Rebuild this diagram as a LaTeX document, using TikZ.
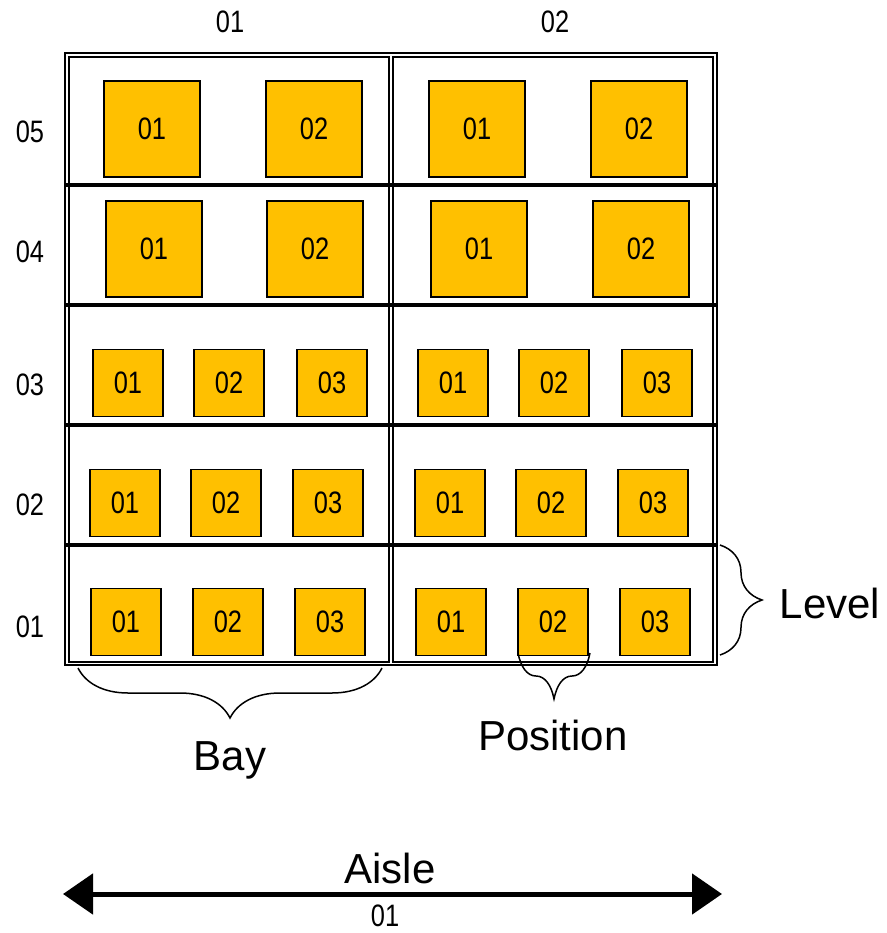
\documentclass[tikz,border=0pt]{standalone}
\usepackage{fontspec}
\setmainfont{Liberation Sans}
\newfontfamily\narrowfont[FakeStretch=0.82]{Liberation Sans}
\usetikzlibrary{arrows.meta,decorations.pathreplacing}
\definecolor{slotyellow}{HTML}{FFC000}

\begin{document}
\begin{tikzpicture}[x=1pt,y=-1pt,
  slot/.style={draw, fill=slotyellow, line width=1.5pt, inner sep=0pt, font=\narrowfont\fontsize{31}{31}\selectfont},
  big slot/.style={slot, minimum width=96pt, minimum height=96pt},
  small slot/.style={slot, minimum width=70pt, minimum height=67pt},
  tag/.style={font=\narrowfont\fontsize{31}{31}\selectfont},
  caption/.style={font=\fontsize{42}{42}\selectfont},
  cell/.style={draw, line width=1.5pt},
  shelf/.style={line width=4pt},
  bracket/.style={line width=1.5pt, decorate, decoration={brace, amplitude=#1}}]

  \useasboundingbox (0,0) rectangle (886,933);

  % rack frame
  \draw[cell] (65,53) rectangle (717,665);
  \foreach \top/\bot in {57/185,185/305,305/425,425/545,545/662}{
    \draw[cell] (69,\top) rectangle (389,\bot);
    \draw[cell] (393,\top) rectangle (713,\bot);
  }
  \foreach \y in {185,305,425,545}
    \draw[shelf] (65,\y) -- (717,\y);

  % bays and levels
  \node[tag] (bay1) at (230,22) {01};
  \node[tag] (bay2) at (555,22) {02};
  \node[tag] (lev5) at (30,132) {05};
  \node[tag] (lev4) at (30,252) {04};
  \node[tag] (lev3) at (30,385) {03};
  \node[tag] (lev2) at (30,505) {02};
  \node[tag] (lev1) at (30,627) {01};

  % positions
  \foreach \b/\xa/\xb in {1/152/314, 2/477/639}{
    \node[big slot] (l5b\b p1) at (\xa,129) {01};
    \node[big slot] (l5b\b p2) at (\xb,129) {02};
  }
  \foreach \b/\xa/\xb in {1/154/315, 2/479/641}{
    \node[big slot] (l4b\b p1) at (\xa,249) {01};
    \node[big slot] (l4b\b p2) at (\xb,249) {02};
  }
  \foreach \l/\y/\xa/\xb/\xc in {3/383/128/229/332, 2/503/125/226/328, 1/622/126/228/330}{
    \node[small slot] (l\l b1p1) at (\xa,\y) {01};
    \node[small slot] (l\l b1p2) at (\xb,\y) {02};
    \node[small slot] (l\l b1p3) at (\xc,\y) {03};
    \node[small slot] (l\l b2p1) at (\xa+325,\y) {01};
    \node[small slot] (l\l b2p2) at (\xb+325,\y) {02};
    \node[small slot] (l\l b2p3) at (\xc+325,\y) {03};
  }

  % braces
  \coordinate (levtop) at (720,545);
  \coordinate (levbot) at (720,655);
  \coordinate (bayl) at (78,668);
  \coordinate (bayr) at (382,668);
  \coordinate (posl) at (518,653);
  \coordinate (posr) at (590,653);
  \draw[bracket=42pt] (levtop) -- (levbot);
  \draw[bracket=50pt] (bayr) -- (bayl);
  \draw[bracket=46pt] (posr) -- (posl);
  \node[caption] (level) at (830,603) {Level};
  \node[caption] (bay) at (230,760) {Bay};
  \node[caption] (position) at (553,735) {Position};

  % aisle
  \coordinate (aislel) at (63,894);
  \coordinate (aisler) at (722,894);
  \draw[line width=5pt, {Triangle[width=40pt,length=30pt]}-{Triangle[width=40pt,length=30pt]}] (aislel) -- (aisler);
  \node[caption] (aisle) at (390,868) {Aisle};
  \node[tag, inner sep=0pt] (aisle1) at (385,916) {01};
\end{tikzpicture}
\end{document}
